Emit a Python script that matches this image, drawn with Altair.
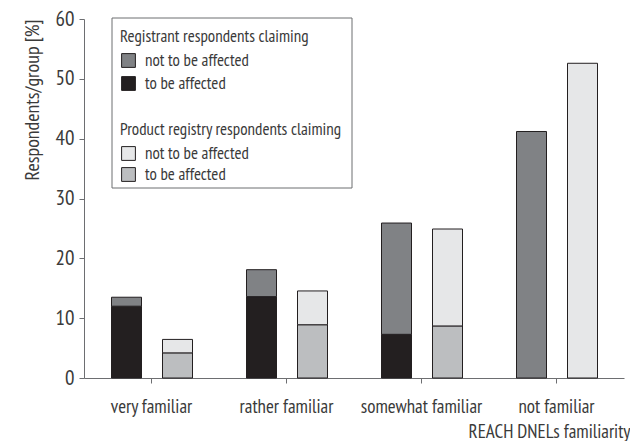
import altair as alt
import pandas as pd

categories = ["very familiar", "rather familiar", "somewhat familiar", "not familiar"]
reg_affected = [12.0, 13.6, 7.3, 0.0]
reg_not_affected = [1.5, 4.5, 18.6, 41.2]
prod_affected = [4.2, 8.9, 8.7, 0.0]
prod_not_affected = [2.25, 5.65, 16.2, 52.6]
status_labels = ["not to be affected", "to be affected"]
reg_colors = ["#808285", "#231f20"]
prod_colors = ["#e6e7e8", "#bcbec0"]

FONT = "PT Sans Narrow"
TEXT = "#3a3a3a"
AXIS = "#6d6e71"


def build(aff, notaff):
    rows = []
    for c, a, n in zip(categories, aff, notaff):
        if a > 0:
            rows.append({"cat": c, "status": status_labels[1], "value": a, "ord": 0})
        if n > 0:
            rows.append({"cat": c, "status": status_labels[0], "value": n, "ord": 1})
    return pd.DataFrame(rows)


reg_df = build(reg_affected, reg_not_affected)
prod_df = build(prod_affected, prod_not_affected)

x_enc = alt.X(
    "cat:N",
    sort=categories,
    scale=alt.Scale(domain=categories, paddingInner=0, paddingOuter=0),
    axis=alt.Axis(
        title="REACH DNELs familiarity",
        titleAnchor="end",
        titleAlign="right",
        titleX=546,
        labelAngle=0,
        labelFontSize=19,
        labelPadding=14,
        titleFontSize=19,
        titleFontWeight="normal",
        titlePadding=6,
    ),
)
y_enc = alt.Y(
    "value:Q",
    stack="zero",
    scale=alt.Scale(domain=[0, 60]),
    axis=alt.Axis(
        title="Respondents/group [%]",
        titleAnchor="end",
        values=[0, 10, 20, 30, 40, 50, 60],
        labelFontSize=21,
        labelPadding=5,
        titleFontSize=20,
        titleFontWeight="normal",
        titlePadding=13,
        grid=False,
    ),
)

box = alt.Chart(pd.DataFrame({"a": [0]})).mark_rect(
    fill="white", stroke=AXIS, strokeWidth=1
).encode(
    x=alt.value(28), x2=alt.value(268), y=alt.value(-1), y2=alt.value(169)
)

legend_common = dict(
    orient="none",
    titleFontSize=17,
    titleFontWeight="normal",
    titleLimit=400,
    labelLimit=400,
    labelFontSize=17,
    symbolType="square",
    symbolSize=190,
    symbolStrokeColor="#231f20",
    symbolStrokeWidth=1,
    titlePadding=6,
    labelOffset=8,
    padding=0,
)

reg = alt.Chart(reg_df).mark_bar(
    width=30, xOffset=-25, stroke="#231f20", strokeWidth=1
).encode(
    x=x_enc,
    y=y_enc,
    color=alt.Color(
        "status:N",
        scale=alt.Scale(domain=status_labels, range=reg_colors),
        legend=alt.Legend(
            title="Registrant respondents claiming",
            legendX=36, legendY=10, rowPadding=4, **legend_common
        ),
    ),
    order=alt.Order("ord:Q"),
)

prod = alt.Chart(prod_df).mark_bar(
    width=30, xOffset=26, stroke="#231f20", strokeWidth=1
).encode(
    x=x_enc,
    y=y_enc,
    color=alt.Color(
        "status:N",
        scale=alt.Scale(domain=status_labels, range=prod_colors),
        legend=alt.Legend(
            title="Product registry respondents claiming",
            legendX=36, legendY=103, rowPadding=2, **legend_common
        ),
    ),
    order=alt.Order("ord:Q"),
)

chart = alt.layer(box, reg, prod).resolve_scale(color="independent").properties(
    width=540,
    height=359,
    autosize=alt.AutoSizeParams(type="none"),
    padding={"left": 76, "top": 11, "right": 6, "bottom": 63},
).configure(
    font=FONT,
).configure_view(
    stroke=None
).configure_axis(
    domainColor=AXIS,
    tickColor=AXIS,
    tickSize=5,
    labelColor=TEXT,
    titleColor=TEXT,
    labelFont=FONT,
    titleFont=FONT,
).configure_legend(
    labelColor=TEXT,
    titleColor=TEXT,
    labelFont=FONT,
    titleFont=FONT,
)

chart.save("out.html", embed_options={"renderer": "svg", "actions": False})
